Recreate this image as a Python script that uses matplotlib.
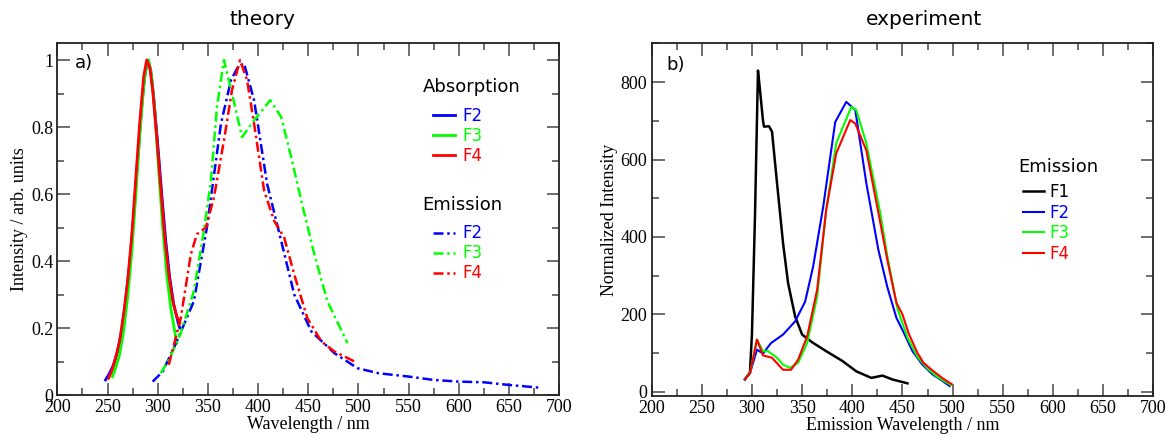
import matplotlib
matplotlib.use("Agg")
import matplotlib.pyplot as plt
from matplotlib.ticker import MultipleLocator, FormatStrFormatter

# ---- theory: absorption (solid) ----
abs_f2_x = [248, 252, 256, 260, 264, 268, 272, 276, 280, 284, 287, 290, 293, 296, 300, 304, 308, 312, 316, 320, 322]
abs_f2_y = [0.045, 0.065, 0.09, 0.13, 0.19, 0.28, 0.39, 0.53, 0.70, 0.86, 0.95, 1.0, 0.97, 0.89, 0.75, 0.60, 0.46, 0.35, 0.27, 0.22, 0.20]
abs_f3_x = [255, 258, 262, 266, 270, 274, 278, 282, 286, 289, 291, 294, 297, 301, 305, 309, 313, 317, 319]
abs_f3_y = [0.055, 0.08, 0.12, 0.19, 0.29, 0.42, 0.59, 0.77, 0.92, 0.99, 1.0, 0.95, 0.85, 0.67, 0.50, 0.36, 0.26, 0.19, 0.155]
abs_f4_x = [251, 254, 258, 262, 266, 270, 274, 278, 282, 286, 289, 292, 295, 299, 303, 307, 311, 315, 319, 322]
abs_f4_y = [0.05, 0.07, 0.11, 0.16, 0.24, 0.34, 0.47, 0.64, 0.81, 0.95, 1.0, 0.98, 0.91, 0.77, 0.62, 0.47, 0.36, 0.28, 0.235, 0.215]

# ---- theory: emission (dash-dot) ----
em_f2_x = [295, 305, 319, 336, 349, 363, 373, 380, 386, 396, 409, 423, 436, 453, 476, 499, 520, 550, 575, 600, 625, 650, 680]
em_f2_y = [0.04, 0.07, 0.16, 0.28, 0.50, 0.81, 0.94, 0.98, 0.99, 0.88, 0.63, 0.46, 0.30, 0.19, 0.125, 0.08, 0.065, 0.055, 0.045, 0.04, 0.038, 0.03, 0.022]
em_f3_x = [303, 312, 323, 336, 346, 353, 359, 366, 374, 384, 396, 412, 423, 433, 443, 456, 469, 489]
em_f3_y = [0.065, 0.11, 0.185, 0.31, 0.49, 0.64, 0.86, 1.0, 0.90, 0.77, 0.82, 0.88, 0.83, 0.71, 0.58, 0.42, 0.28, 0.155]
em_f4_x = [311, 323, 333, 339, 348, 356, 366, 374, 382, 389, 396, 406, 416, 426, 436, 449, 463, 476, 496]
em_f4_y = [0.09, 0.23, 0.42, 0.48, 0.50, 0.59, 0.76, 0.91, 1.0, 0.94, 0.81, 0.61, 0.52, 0.47, 0.36, 0.23, 0.16, 0.13, 0.10]

# ---- experiment: emission ----
ex_f1_x = [293, 298, 300, 303, 306, 308, 311, 312, 317, 320, 325, 331, 336, 343, 350, 360, 374, 390, 404, 419, 430, 440, 455]
ex_f1_y = [32, 50, 150, 452, 830, 780, 700, 685, 686, 672, 539, 384, 281, 195, 148, 128, 105, 80, 53, 36, 42, 32, 22]
ex_f2_x = [293, 298, 305, 311, 319, 331, 343, 353, 361, 371, 383, 394, 403, 414, 426, 435, 444, 450, 460, 470, 480, 490, 497]
ex_f2_y = [33, 48, 109, 99, 126, 148, 182, 233, 324, 478, 697, 749, 728, 539, 367, 270, 191, 160, 105, 70, 45, 28, 15]
ex_f3_x = [293, 298, 305, 311, 316, 325, 331, 338, 346, 355, 365, 374, 384, 399, 404, 414, 428, 435, 445, 455, 465, 475, 485, 498]
ex_f3_y = [33, 48, 135, 105, 105, 88, 70, 62, 75, 126, 246, 470, 642, 736, 728, 642, 461, 350, 215, 140, 90, 60, 38, 18]
ex_f4_x = [293, 298, 305, 311, 320, 331, 339, 346, 355, 365, 374, 384, 398, 403, 414, 428, 435, 444, 450, 456, 465, 471, 480, 490, 499]
ex_f4_y = [33, 48, 135, 94, 88, 57, 57, 83, 143, 264, 470, 616, 702, 693, 624, 436, 340, 230, 200, 152, 100, 75, 55, 35, 20]

BLUE, GREEN, RED = "#0000ff", "#00ff00", "#ff0000"
emis_dash = (4, 1.5, 1, 1.5)
serif = ["Liberation Serif", "DejaVu Serif"]

fig = plt.figure(figsize=(11.72, 4.36), dpi=100)
ax1 = fig.add_axes([0.0489, 0.094, 0.4283, 0.8067])
ax2 = fig.add_axes([0.556, 0.0924, 0.428, 0.808])


def style_axes(ax, ymaj, ymin):
    ax.set_xlim(200, 700)
    ax.xaxis.set_major_locator(MultipleLocator(50))
    ax.xaxis.set_minor_locator(MultipleLocator(25))
    ax.yaxis.set_major_locator(MultipleLocator(ymaj))
    ax.yaxis.set_minor_locator(MultipleLocator(ymin))
    ax.tick_params(which="both", direction="in", top=True, right=True, color="#555555")
    ax.tick_params(which="major", length=9, width=1.2, pad=3)
    ax.tick_params(which="minor", length=5, width=1.2)
    for lab in ax.get_xticklabels() + ax.get_yticklabels():
        lab.set_family(serif)
        lab.set_fontsize(13)
    for s in ax.spines.values():
        s.set_linewidth(1.3)
        s.set_color("#222222")


# left panel
ax1.plot(abs_f2_x, abs_f2_y, color=BLUE, lw=2, label="F2")
ax1.plot(abs_f3_x, abs_f3_y, color=GREEN, lw=2, label="F3")
ax1.plot(abs_f4_x, abs_f4_y, color=RED, lw=2, label="F4")
ax1.plot(em_f2_x, em_f2_y, color=BLUE, lw=1.8, dashes=emis_dash, label="F2")
ax1.plot(em_f3_x, em_f3_y, color=GREEN, lw=1.8, dashes=emis_dash, label="F3")
ax1.plot(em_f4_x, em_f4_y, color=RED, lw=1.8, dashes=emis_dash, label="F4")
style_axes(ax1, 0.2, 0.1)
ax1.set_ylim(0, 1.05)
ax1.yaxis.set_major_formatter(FormatStrFormatter("%g"))
for lab in ax1.get_yticklabels():
    lab.set_family(serif)
    lab.set_fontsize(13)
ax1.set_xlabel("Wavelength / nm", family=serif, fontsize=13, labelpad=0)
ax1.set_ylabel("Intensity / arb. units", family=serif, fontsize=13, labelpad=2)
ax1.set_title("theory", fontsize=14.5, x=0.408, pad=13)
ax1.text(0.035, 0.943, "a)", transform=ax1.transAxes, fontsize=13, va="center")

leg_kw = dict(loc="upper left", frameon=False, fontsize=12, handlelength=1.3,
              labelspacing=0.12, borderpad=0, borderaxespad=0, labelcolor="linecolor")
h = ax1.get_lines()
ax1.text(0.728, 0.875, "Absorption", transform=ax1.transAxes, fontsize=13, va="center")
leg_a = ax1.legend(h[:3], ["F2", "F3", "F4"], bbox_to_anchor=(0.749, 0.82),
                   handletextpad=0.45, **leg_kw)
ax1.add_artist(leg_a)
ax1.text(0.728, 0.54, "Emission", transform=ax1.transAxes, fontsize=13, va="center")
ax1.legend(h[3:], ["F2", "F3", "F4"], bbox_to_anchor=(0.749, 0.485),
           handletextpad=0.45, **leg_kw)

# right panel
ax2.plot(ex_f1_x, ex_f1_y, color="black", lw=1.8, label="F1")
ax2.plot(ex_f2_x, ex_f2_y, color=BLUE, lw=1.5, label="F2")
ax2.plot(ex_f3_x, ex_f3_y, color=GREEN, lw=1.5, label="F3")
ax2.plot(ex_f4_x, ex_f4_y, color=RED, lw=1.5, label="F4")
style_axes(ax2, 200, 100)
ax2.set_ylim(-10, 900)
for lab in ax2.get_yticklabels():
    lab.set_family(serif)
    lab.set_fontsize(13)
ax2.set_xlabel("Emission Wavelength / nm", family=serif, fontsize=13, labelpad=0)
ax2.set_ylabel("Normalized Intensity", family=serif, fontsize=13, labelpad=2)
ax2.set_title("experiment", fontsize=14.5, x=0.543, pad=13)
ax2.text(0.03, 0.94, "b)", transform=ax2.transAxes, fontsize=13, va="center")
ax2.text(0.73, 0.649, "Emission", transform=ax2.transAxes, fontsize=13, va="center")
leg_kw["labelspacing"] = 0.15
ax2.legend(bbox_to_anchor=(0.74, 0.603), handletextpad=0.3, **leg_kw)

fig.savefig("out.png", dpi=100)
